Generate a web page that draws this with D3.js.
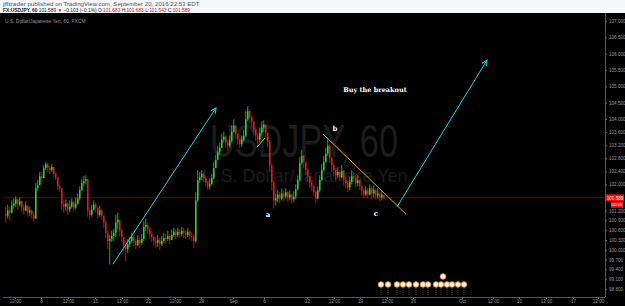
<!DOCTYPE html>
<html>
<head>
<meta charset="utf-8">
<script src="https://cdn.jsdelivr.net/npm/d3@7"></script>
<style>
	body { margin: 0; background: #fff; }
	svg { display: block; font-family: 'Liberation Sans', Arial, sans-serif; }
</style>
</head>
<body>
<svg id="chart-svg" width="625" height="306"></svg>
<script>
// USDJPY hourly candles, grouped ~5h per candle
const FIRST_OPEN = 101.1;
const closes = [
	101.04, 101.20, 101.14, 101.35, 101.41, 101.54, 101.38, 101.48, 101.29, 101.20,
	101.35, 101.14, 101.20, 101.07, 100.95, 101.88, 101.97, 102.25, 102.19, 102.50,
	102.62, 102.50, 102.44, 102.53, 102.32, 102.22, 101.94, 101.88, 101.38, 101.32,
	101.41, 101.23, 101.32, 101.45, 101.29, 101.41, 101.57, 101.82, 102.04, 102.10,
	102.16, 101.20, 101.07, 101.23, 101.38, 101.29, 101.07, 101.20, 101.04, 100.83,
	100.52, 100.27, 100.33, 100.42, 100.52, 100.83, 100.92, 100.58, 100.39, 100.14,
	100.02, 100.17, 100.27, 100.39, 100.27, 100.14, 100.30, 100.21, 100.33, 100.70,
	100.76, 100.64, 100.48, 100.39, 100.27, 100.21, 100.30, 100.17, 100.27, 100.36,
	100.33, 100.42, 100.30, 100.45, 100.55, 100.45, 100.55, 100.48, 100.58, 100.52,
	100.45, 100.55, 100.42, 100.39, 100.27, 101.51, 102.13, 102.22, 102.32, 102.19,
	102.07, 101.94, 102.00, 102.19, 102.50, 102.75, 103.00, 103.12, 103.37, 103.46,
	103.28, 103.18, 103.34, 103.61, 103.80, 103.55, 103.37, 103.24, 103.37, 103.49,
	103.99, 104.24, 104.05, 103.93, 103.68, 103.49, 103.37, 103.58, 103.74, 103.83,
	103.58, 103.31, 102.59, 102.07, 101.51, 101.57, 101.69, 101.57, 101.72, 101.63,
	101.76, 101.60, 101.69, 101.54, 101.63, 101.85, 102.13, 102.66, 102.87, 102.69,
	102.44, 102.25, 102.04, 101.94, 101.76, 101.57, 101.82, 102.13, 102.44, 102.69,
	102.94, 103.18, 102.81, 102.59, 102.44, 102.28, 102.38, 102.22, 102.41, 102.13,
	102.04, 101.91, 102.07, 102.25, 102.19, 102.04, 102.13, 101.94, 101.82, 101.69,
	101.82, 101.69, 101.88, 101.72, 101.82, 101.66, 101.72, 101.60, 101.683, 101.589
];
const highs = [
	101.35, 101.38, 101.32, 101.51, 101.57, 101.63, 101.54, 101.60, 101.51, 101.38,
	101.48, 101.32, 101.32, 101.23, 101.17, 102.04, 102.13, 102.38, 102.38, 102.59,
	102.69, 102.66, 102.56, 102.62, 102.50, 102.38, 102.19, 102.00, 101.88, 101.51,
	101.54, 101.45, 101.51, 101.57, 101.51, 101.60, 101.72, 101.94, 102.16, 102.25,
	102.28, 102.13, 101.29, 101.38, 101.51, 101.45, 101.26, 101.35, 101.26, 101.04,
	100.89, 100.58, 100.45, 100.58, 100.64, 101.07, 101.14, 100.83, 100.64, 100.39,
	100.27, 100.33, 100.39, 100.52, 100.45, 100.33, 100.45, 100.39, 100.48, 100.86,
	100.95, 100.83, 100.70, 100.58, 100.42, 100.39, 100.45, 100.36, 100.42, 100.52,
	100.48, 100.58, 100.48, 100.61, 100.67, 100.64, 100.67, 100.64, 100.70, 100.67,
	100.61, 100.67, 100.61, 100.55, 100.48, 101.76, 102.44, 102.38, 102.44, 102.38,
	102.25, 102.10, 102.19, 102.32, 102.69, 102.90, 103.18, 103.28, 103.55, 103.61,
	103.49, 103.37, 103.49, 103.80, 103.99, 103.77, 103.55, 103.40, 103.49, 103.68,
	104.24, 104.39, 104.30, 104.11, 103.93, 103.74, 103.58, 103.74, 103.93, 103.96,
	103.80, 103.52, 103.37, 102.66, 102.13, 101.72, 101.82, 101.76, 101.88, 101.82,
	101.88, 101.79, 101.82, 101.72, 101.79, 102.00, 102.28, 102.84, 103.06, 102.90,
	102.69, 102.50, 102.25, 102.13, 101.97, 101.82, 101.94, 102.28, 102.62, 102.87,
	103.12, 103.43, 103.24, 102.84, 102.66, 102.50, 102.53, 102.44, 102.59, 102.44,
	102.22, 102.10, 102.22, 102.44, 102.38, 102.25, 102.28, 102.16, 102.00, 101.88,
	101.94, 101.88, 102.00, 101.94, 101.97, 101.88, 101.88, 101.79, 101.82, 101.683
];
const lows = [
	100.83, 100.95, 100.89, 101.10, 101.26, 101.32, 101.23, 101.32, 101.14, 101.07,
	101.17, 101.01, 101.04, 100.95, 100.86, 100.98, 101.79, 102.00, 102.07, 102.22,
	102.44, 102.38, 102.32, 102.38, 102.22, 102.13, 101.82, 101.76, 101.23, 101.14,
	101.20, 101.07, 101.14, 101.26, 101.17, 101.23, 101.38, 101.51, 101.79, 101.94,
	102.00, 101.01, 100.92, 101.01, 101.20, 101.14, 100.95, 101.01, 100.92, 100.67,
	100.36, 100.02, 99.55, 100.24, 100.27, 100.39, 100.64, 100.42, 100.24, 99.96,
	99.65, 99.90, 100.08, 100.21, 100.11, 100.02, 100.11, 100.05, 100.14, 100.27,
	100.58, 100.48, 100.33, 100.24, 100.11, 100.05, 100.08, 99.99, 100.11, 100.21,
	100.17, 100.27, 100.17, 100.30, 100.39, 100.33, 100.39, 100.36, 100.42, 100.36,
	100.33, 100.39, 100.30, 100.27, 100.05, 100.21, 101.45, 102.04, 102.13, 102.07,
	101.94, 101.82, 101.85, 102.00, 102.16, 102.50, 102.75, 102.90, 103.12, 103.28,
	103.12, 103.03, 103.12, 103.28, 103.58, 103.40, 103.21, 103.12, 103.15, 103.31,
	103.43, 103.93, 103.86, 103.74, 103.49, 103.34, 103.18, 103.28, 103.49, 103.61,
	103.43, 103.15, 102.38, 101.82, 101.26, 101.35, 101.45, 101.41, 101.51, 101.48,
	101.57, 101.48, 101.51, 101.41, 101.45, 101.54, 101.82, 102.10, 102.59, 102.50,
	102.28, 102.07, 101.88, 101.79, 101.63, 101.45, 101.54, 101.76, 102.10, 102.41,
	102.66, 102.87, 102.66, 102.38, 102.25, 102.13, 102.19, 102.10, 102.19, 101.94,
	101.88, 101.76, 101.82, 102.00, 102.07, 101.88, 101.94, 101.82, 101.66, 101.57,
	101.63, 101.57, 101.66, 101.54, 101.60, 101.54, 101.57, 101.48, 101.51, 101.543
];

// price axis labels
const priceTicks = [107, 106.5, 106, 105.5, 105, 104.5, 104, 103.6, 103.2, 102.8, 102.4, 102,
	101.2, 100.9, 100.6, 100.3, 100, 99.7, 99.4, 99.1, 98.8];
// time axis labels, positioned in candle index units
const timeTickPos = [5, 18, 31.5, 45, 58.5, 71.5, 85, 98, 114, 129.5, 151, 164.5, 177.5, 191,
	204, 228.5, 244, 257, 270.5, 284, 296.5];
const timeTickLabels = ['12:00', '8', '12:00', '15', '12:00', '22', '12:00', '29', 'Sep', '6',
	'12', '12:00', '19', '12:00', '26', 'Oct', '12:00', '10', '12:00', '17', '12:00'];
// economic calendar events (candle index)
const eventPos = [188, 191.5, 196, 199, 202, 205.5, 209, 211.5, 215.5, 218, 221, 223.5, 226.5, 229.5];
const eventRaised = [219];

// drawings, in (candle index, price)
const arrowUp1 = [[54, 99.56], [105.5, 104.34]];
const arrowUp2 = [[196, 101.31], [241, 105.8]];
const trendLine = [[159, 103.54], [200.5, 101.09]];
const smallLine = [[126, 103.14], [130, 103.42]];
const waveLabels = [
	{ text: 'a', i: 131.5, p: 101.0 },
	{ text: 'b', i: 165, p: 103.63 },
	{ text: 'c', i: 185.5, p: 101.03 }
];
const note = { text: 'Buy the breakout', i: 185, p: 104.83 };

const WIDTH = 625;
const HEIGHT = 306;
const PLOT = { left: 3, right: 605, top: 13, bottom: 297 };

const svg = d3.select('#chart-svg');

// header
svg.append('rect').attr('width', WIDTH).attr('height', PLOT.top).attr('fill', '#f6f7f9');
let h1 = svg.append('text').attr('x', 3).attr('y', 6).attr('font-size', 6.1).attr('fill', '#555');
h1.append('tspan').attr('fill', '#2a8be0').attr('font-weight', 'bold').text('jfltrader');
h1.append('tspan').text(' published on TradingView.com, September 20, 2016 22:53 EDT');
let h2 = svg.append('text').attr('x', 3).attr('y', 11.6).attr('font-size', 4.8).attr('fill', '#222');
h2.append('tspan').attr('font-weight', 'bold').text('FX:USDJPY, 60');
h2.append('tspan').text(' 101.589 ');
h2.append('tspan').attr('fill', '#d01010').text('\u25BC');
h2.append('tspan').text(' \u22120.103 (\u22120.1%) O:');
h2.append('tspan').attr('fill', '#d01010').text('101.683');
h2.append('tspan').text(' H:');
h2.append('tspan').attr('fill', '#d01010').text('101.683');
h2.append('tspan').text(' L:');
h2.append('tspan').attr('fill', '#d01010').text('101.543');
h2.append('tspan').text(' C:');
h2.append('tspan').attr('fill', '#d01010').text('101.589');

// black chart panel
svg.append('rect').attr('x', 0).attr('y', PLOT.top).attr('width', WIDTH).attr('height', HEIGHT - PLOT.top).attr('fill', '#000');

const xScale = d3.scaleLinear().domain([0, 300]).range([5, 605]);
const yScale = d3.scaleLinear().domain([98.8, 104]).range([289, 119]);

// watermark
svg.append('text')
	.attr('x', 304).attr('y', 157).attr('text-anchor', 'middle')
	.attr('font-size', 47).attr('fill', '#1c1c1c')
	.attr('textLength', 188).attr('lengthAdjust', 'spacingAndGlyphs')
	.text('USDJPY, 60');
svg.append('text')
	.attr('x', 305).attr('y', 182).attr('text-anchor', 'middle')
	.attr('font-size', 19).attr('fill', '#1c1c1c')
	.attr('textLength', 205).attr('lengthAdjust', 'spacingAndGlyphs')
	.text('U.S. Dollar/Japanese Yen');

svg.append('text').attr('x', 5).attr('y', 23).attr('font-size', 4.9).attr('fill', '#9a9a9a')
	.text('U.S. Dollar/Japanese Yen, 60, FXCM');

// last price line
svg.append('line')
	.attr('x1', PLOT.left).attr('x2', PLOT.right)
	.attr('y1', yScale(closes[closes.length - 1])).attr('y2', yScale(closes[closes.length - 1]))
	.attr('stroke', '#7a0a0a').attr('stroke-width', 0.8);

// candles
const candles = closes.map((c, i) => ({
	i: i,
	o: i === 0 ? FIRST_OPEN : closes[i - 1],
	c: c,
	h: highs[i],
	l: lows[i]
}));
const UP = '#2ed42e';
const DOWN = '#e41a1a';
let candleG = svg.append('g').attr('id', 'candles');
candleG.selectAll('line')
	.data(candles)
	.enter()
	.append('line')
	.attr('x1', (d) => xScale(d.i) + 0.75)
	.attr('x2', (d) => xScale(d.i) + 0.75)
	.attr('y1', (d) => yScale(d.h))
	.attr('y2', (d) => yScale(d.l))
	.attr('stroke', (d) => (d.c >= d.o ? UP : DOWN))
	.attr('stroke-width', 0.8);
candleG.selectAll('rect')
	.data(candles)
	.enter()
	.append('rect')
	.attr('x', (d) => xScale(d.i))
	.attr('width', 1.5)
	.attr('y', (d) => yScale(Math.max(d.o, d.c)))
	.attr('height', (d) => Math.max(0.8, Math.abs(yScale(d.o) - yScale(d.c))))
	.attr('fill', (d) => (d.c >= d.o ? UP : DOWN));

// drawings
let defs = svg.append('defs');
defs.append('marker')
	.attr('id', 'arrow-head')
	.attr('viewBox', '0 0 8 8')
	.attr('refX', 7).attr('refY', 4)
	.attr('markerWidth', 7).attr('markerHeight', 7)
	.attr('markerUnits', 'userSpaceOnUse')
	.attr('orient', 'auto')
	.append('path')
	.attr('d', 'M1,1 L7,4 L1,7')
	.attr('fill', 'none')
	.attr('stroke', '#22d3e8')
	.attr('stroke-width', 1.2);

const toXY = (pt) => [xScale(pt[0]), yScale(pt[1])];
[arrowUp1, arrowUp2].forEach((seg) => {
	let a = toXY(seg[0]);
	let b = toXY(seg[1]);
	svg.append('line')
		.attr('x1', a[0]).attr('y1', a[1]).attr('x2', b[0]).attr('y2', b[1])
		.attr('stroke', '#22d3e8').attr('stroke-width', 1)
		.attr('marker-end', 'url(#arrow-head)');
});
[trendLine, smallLine].forEach((seg) => {
	let a = toXY(seg[0]);
	let b = toXY(seg[1]);
	svg.append('line')
		.attr('x1', a[0]).attr('y1', a[1]).attr('x2', b[0]).attr('y2', b[1])
		.attr('stroke', '#f39a1e').attr('stroke-width', 1);
});
waveLabels.forEach((d) => {
	svg.append('text')
		.attr('x', xScale(d.i)).attr('y', yScale(d.p))
		.attr('text-anchor', 'middle').attr('font-size', 7).attr('font-weight', 'bold')
		.attr('font-family', 'DejaVu Serif, serif')
		.attr('fill', '#fff').text(d.text);
});
svg.append('text')
	.attr('x', xScale(note.i)).attr('y', yScale(note.p))
	.attr('text-anchor', 'middle').attr('font-size', 6.5).attr('font-weight', 'bold')
	.attr('font-family', 'DejaVu Serif, serif')
	.attr('fill', '#fff').text(note.text);

// event markers
let evG = svg.append('g').attr('id', 'events');
evG.selectAll('line')
	.data(eventPos)
	.enter()
	.append('line')
	.attr('x1', (d) => xScale(d)).attr('x2', (d) => xScale(d))
	.attr('y1', 288).attr('y2', 296)
	.attr('stroke', '#777').attr('stroke-width', 0.6).attr('stroke-dasharray', '1,1');
evG.selectAll('circle.ev')
	.data(eventPos)
	.enter()
	.append('circle')
	.attr('class', 'ev')
	.attr('cx', (d) => xScale(d)).attr('cy', 284.5).attr('r', 2.8)
	.attr('fill', '#f4f4f4').attr('stroke', '#f08c1a').attr('stroke-width', 0.9);
evG.selectAll('circle.ev2')
	.data(eventRaised)
	.enter()
	.append('circle')
	.attr('class', 'ev2')
	.attr('cx', (d) => xScale(d)).attr('cy', 276.5).attr('r', 2.8)
	.attr('fill', '#f4f4f4').attr('stroke', '#f08c1a').attr('stroke-width', 0.9);

// axes
const yAxis = d3.axisRight(yScale).tickValues(priceTicks).tickSize(2).tickPadding(2)
	.tickFormat(d3.format('.3f'));
let yG = svg.append('g').attr('transform', 'translate(' + PLOT.right + ', 0)').call(yAxis);
yG.select('.domain').attr('stroke', '#555').attr('d', 'M0.5,' + PLOT.top + 'V' + PLOT.bottom);
yG.selectAll('line').attr('stroke', '#666');
yG.selectAll('text').attr('fill', '#9a9a9a').attr('font-size', 4.6).attr('font-family', 'Liberation Sans, Arial, sans-serif');

const xAxis = d3.axisBottom(xScale).tickValues(timeTickPos).tickSize(2).tickPadding(1)
	.tickFormat((d, i) => timeTickLabels[i]);
let xG = svg.append('g').attr('transform', 'translate(0, ' + PLOT.bottom + ')').call(xAxis);
xG.select('.domain').attr('stroke', '#555').attr('d', 'M' + PLOT.left + ',0.5H' + PLOT.right);
xG.selectAll('line').attr('stroke', '#666');
xG.selectAll('text').attr('fill', '#9a9a9a').attr('font-size', 4.6).attr('font-family', 'Liberation Sans, Arial, sans-serif');

// last price badge + countdown
const lastY = yScale(closes[closes.length - 1]);
svg.append('rect').attr('x', 606).attr('y', lastY - 3.5).attr('width', 18).attr('height', 7).attr('fill', '#f01010');
svg.append('text').attr('x', 615).attr('y', lastY + 1.8).attr('text-anchor', 'middle')
	.attr('font-size', 4.6).attr('fill', '#fff').text('101.589');
svg.append('rect').attr('x', 611).attr('y', lastY + 4).attr('width', 12).attr('height', 6).attr('fill', '#f01010');
svg.append('text').attr('x', 617).attr('y', lastY + 8.6).attr('text-anchor', 'middle')
	.attr('font-size', 4.4).attr('fill', '#fff').text('00:35');
</script>
</body>
</html>
